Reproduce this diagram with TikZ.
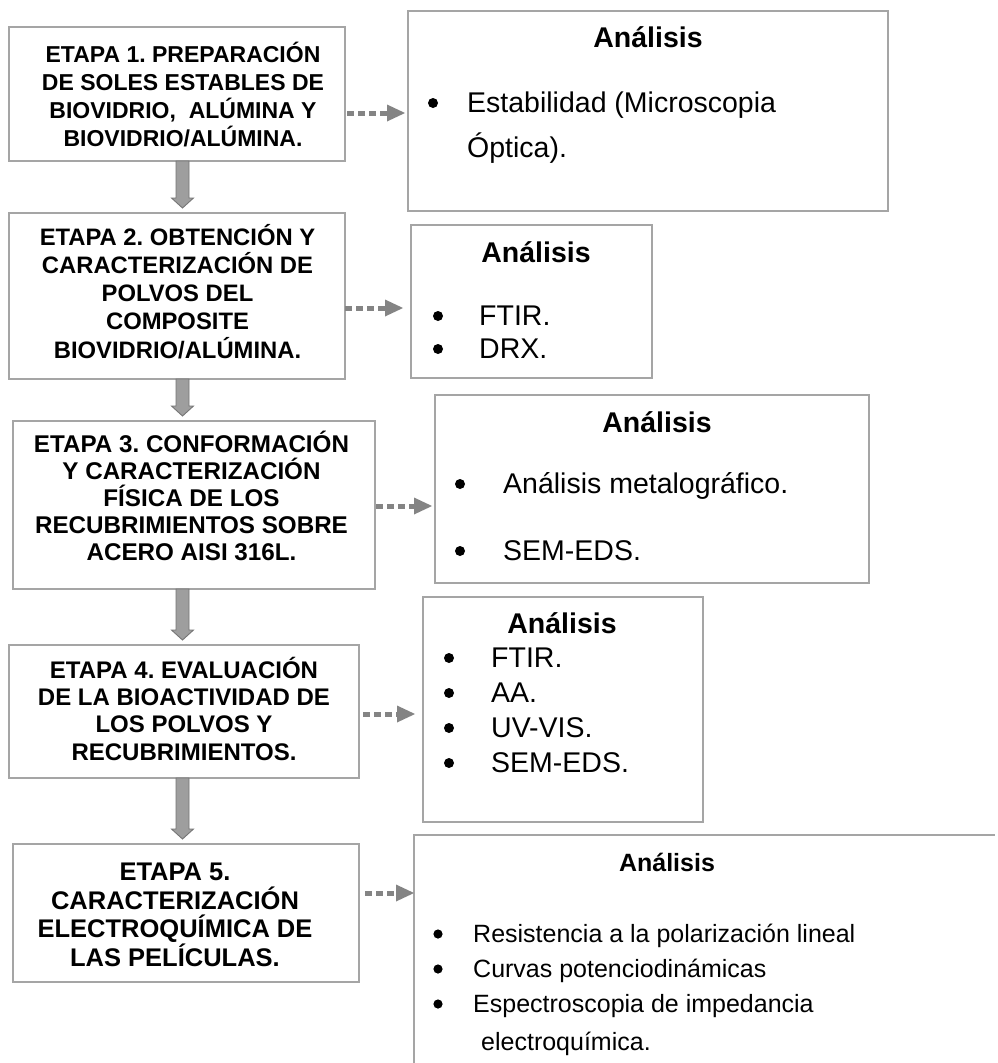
\documentclass[tikz,border=0pt]{standalone}
\usepackage{fontspec}
\setmainfont{Liberation Sans}
\frenchspacing
\usetikzlibrary{arrows.meta,calc}
\definecolor{boxgray}{RGB}{165,165,165}
\definecolor{dotgray}{RGB}{132,132,132}
\definecolor{arrfill}{RGB}{158,158,158}
\definecolor{arrline}{RGB}{118,118,118}
\tikzset{
  stagebox/.style={draw=boxgray, line width=1.2pt, inner sep=0pt, outer sep=0pt, anchor=north west},
  anbox/.style={draw=boxgray, line width=1.2pt, inner sep=0pt, outer sep=0pt, anchor=north west},
  stagetext/.style={align=center, inner sep=0pt, anchor=base},
  antitle/.style={font=\fontsize{28.5}{34}\selectfont\bfseries, inner sep=0pt, anchor=base},
  anitem/.style={font=\fontsize{28.5}{34}\selectfont, inner sep=0pt, anchor=base west},
  anitemsmall/.style={font=\fontsize{25}{30}\selectfont, inner sep=0pt, anchor=base west},
  bulletdot/.style={fill=black},
  dotarrow/.style={draw=dotgray, line width=5pt, dash pattern=on 7pt off 4pt,
     -{Triangle[length=18pt,width=17pt,fill=dotgray,line width=0pt]}},
  blockarrow/.style={fill=arrfill, draw=arrline, line width=0.9pt, line join=miter},
}
\newcommand{\vblockarrow}[2]{%
  \draw[blockarrow] ($(#1.south -| ax)+(-6.5,0)$) -- ($(#2.north -| ax)+(-6.5,-15)$)
    -- ($(#2.north -| ax)+(-11,-15)$) -- ($(#2.north -| ax)+(0,-5)$)
    -- ($(#2.north -| ax)+(11,-15)$) -- ($(#2.north -| ax)+(6.5,-15)$)
    -- ($(#1.south -| ax)+(6.5,0)$) -- cycle;}
\begin{document}
\begin{tikzpicture}[x=1pt,y=-1pt]
\useasboundingbox (0,0) rectangle (998,1063);
\fill[white] (0,0) rectangle (998,1063);
\coordinate (ax) at (182.5,0);

% ---------- stage boxes (text anchored at the baseline of its last line) ----------
\node[stagebox, minimum width=336pt, minimum height=134pt] (b1) at (9,27) {};
\node[stagetext, font=\fontsize{23}{28}\selectfont\bfseries] (t1) at (183,146)
  {ETAPA 1. PREPARACIÓN\\DE SOLES ESTABLES DE\\BIOVIDRIO,\ \ ALÚMINA Y\\BIOVIDRIO/ALÚMINA.};

\node[stagebox, minimum width=336pt, minimum height=166pt] (b2) at (9,213) {};
\node[stagetext, font=\fontsize{23.8}{28.25}\selectfont\bfseries] (t2) at (177.5,358)
  {ETAPA 2. OBTENCIÓN Y\\CARACTERIZACIÓN DE\\POLVOS DEL\\COMPOSITE\\BIOVIDRIO/ALÚMINA.};

\node[stagebox, minimum width=362pt, minimum height=168pt] (b3) at (13,421) {};
\node[stagetext, font=\fontsize{24.2}{27}\selectfont\bfseries] (t3) at (191.5,560)
  {ETAPA 3. CONFORMACIÓN\\Y CARACTERIZACIÓN\\FÍSICA DE LOS\\RECUBRIMIENTOS SOBRE\\ACERO AISI 316L.};

\node[stagebox, minimum width=350pt, minimum height=133pt] (b4) at (9,645) {};
\node[stagetext, font=\fontsize{24}{27.3}\selectfont\bfseries] (t4) at (184,760)
  {ETAPA 4. EVALUACIÓN\\DE LA BIOACTIVIDAD DE\\LOS POLVOS Y\\RECUBRIMIENTOS.};

\node[stagebox, minimum width=346pt, minimum height=138pt] (b5) at (13,844) {};
\node[stagetext, font=\fontsize{25.5}{28.5}\selectfont\bfseries] (t5) at (175,966)
  {ETAPA 5.\\CARACTERIZACIÓN\\ELECTROQUÍMICA DE\\LAS PELÍCULAS.};

% ---------- vertical arrows ----------
\vblockarrow{b1}{b2}
\vblockarrow{b2}{b3}
\vblockarrow{b3}{b4}
\vblockarrow{b4}{b5}

% ---------- analysis boxes ----------
\node[anbox, minimum width=480pt, minimum height=200pt] (a1) at (408,11) {};
\node[antitle] (a1t) at (648,47) {Análisis};
\fill[bulletdot] (433,103) circle (5pt);
\node[anitem] (a1i1) at (467,112) {Estabilidad (Microscopia};
\node[anitem] (a1i2) at (467,157) {Óptica).};

\node[anbox, minimum width=241pt, minimum height=153pt] (a2) at (411,225) {};
\node[antitle] (a2t) at (536,262) {Análisis};
\fill[bulletdot] (438,316) circle (5pt);
\node[anitem] (a2i1) at (479,325) {FTIR.};
\fill[bulletdot] (438,349) circle (5pt);
\node[anitem] (a2i2) at (479,358) {DRX.};

\node[anbox, minimum width=434pt, minimum height=188pt] (a3) at (435,395) {};
\node[antitle] (a3t) at (657,432) {Análisis};
\fill[bulletdot] (460,484) circle (5pt);
\node[anitem] (a3i1) at (503,493) {Análisis metalográfico.};
\fill[bulletdot] (460,551) circle (5pt);
\node[anitem] (a3i2) at (503,560) {SEM-EDS.};

\node[anbox, minimum width=280pt, minimum height=225pt] (a4) at (423,597) {};
\node[antitle] (a4t) at (562,633) {Análisis};
\fill[bulletdot] (449,658) circle (5pt);
\node[anitem] (a4i1) at (491,667) {FTIR.};
\fill[bulletdot] (449,693) circle (5pt);
\node[anitem] (a4i2) at (491,702) {AA.};
\fill[bulletdot] (449,728) circle (5pt);
\node[anitem] (a4i3) at (491,737) {UV-VIS.};
\fill[bulletdot] (449,763) circle (5pt);
\node[anitem] (a4i4) at (491,772) {SEM-EDS.};

\node[inner sep=0pt, outer sep=0pt, anchor=north west, minimum width=581pt, minimum height=228pt] (a5) at (414,835) {};
\draw[draw=boxgray, line width=1.2pt] (a5.south west) |- (a5.north east);
\node[antitle, font=\fontsize{25}{30}\selectfont\bfseries] (a5t) at (667,871) {Análisis};
\fill[bulletdot] (438,934) circle (4.6pt);
\node[anitemsmall] (a5i1) at (473,942) {Resistencia a la polarización lineal};
\fill[bulletdot] (438,969) circle (4.6pt);
\node[anitemsmall] (a5i2) at (473,977) {Curvas potenciodinámicas};
\fill[bulletdot] (438,1004) circle (4.6pt);
\node[anitemsmall] (a5i3) at (473,1012) {Espectroscopia de impedancia};
\node[anitemsmall] (a5i4) at (481,1050) {electroquímica.};

% ---------- dotted arrows ----------
\coordinate (d1) at (0,113);
\coordinate (d2) at (0,308);
\coordinate (d3) at (0,506);
\coordinate (d4) at (0,714);
\coordinate (d5) at (0,893);
\draw[dotarrow, shorten <=2pt, shorten >=3pt] (b1.east |- d1) -- (a1.west |- d1);
\draw[dotarrow, shorten <=0pt, shorten >=8pt] (b2.east |- d2) -- (a2.west |- d2);
\draw[dotarrow, shorten <=1pt, shorten >=3pt] (b3.east |- d3) -- (a3.west |- d3);
\draw[dotarrow, shorten <=4pt, shorten >=8pt] (b4.east |- d4) -- (a4.west |- d4);
\draw[dotarrow, shorten <=6pt, shorten >=0pt] (b5.east |- d5) -- (a5.west |- d5);
\end{tikzpicture}
\end{document}
